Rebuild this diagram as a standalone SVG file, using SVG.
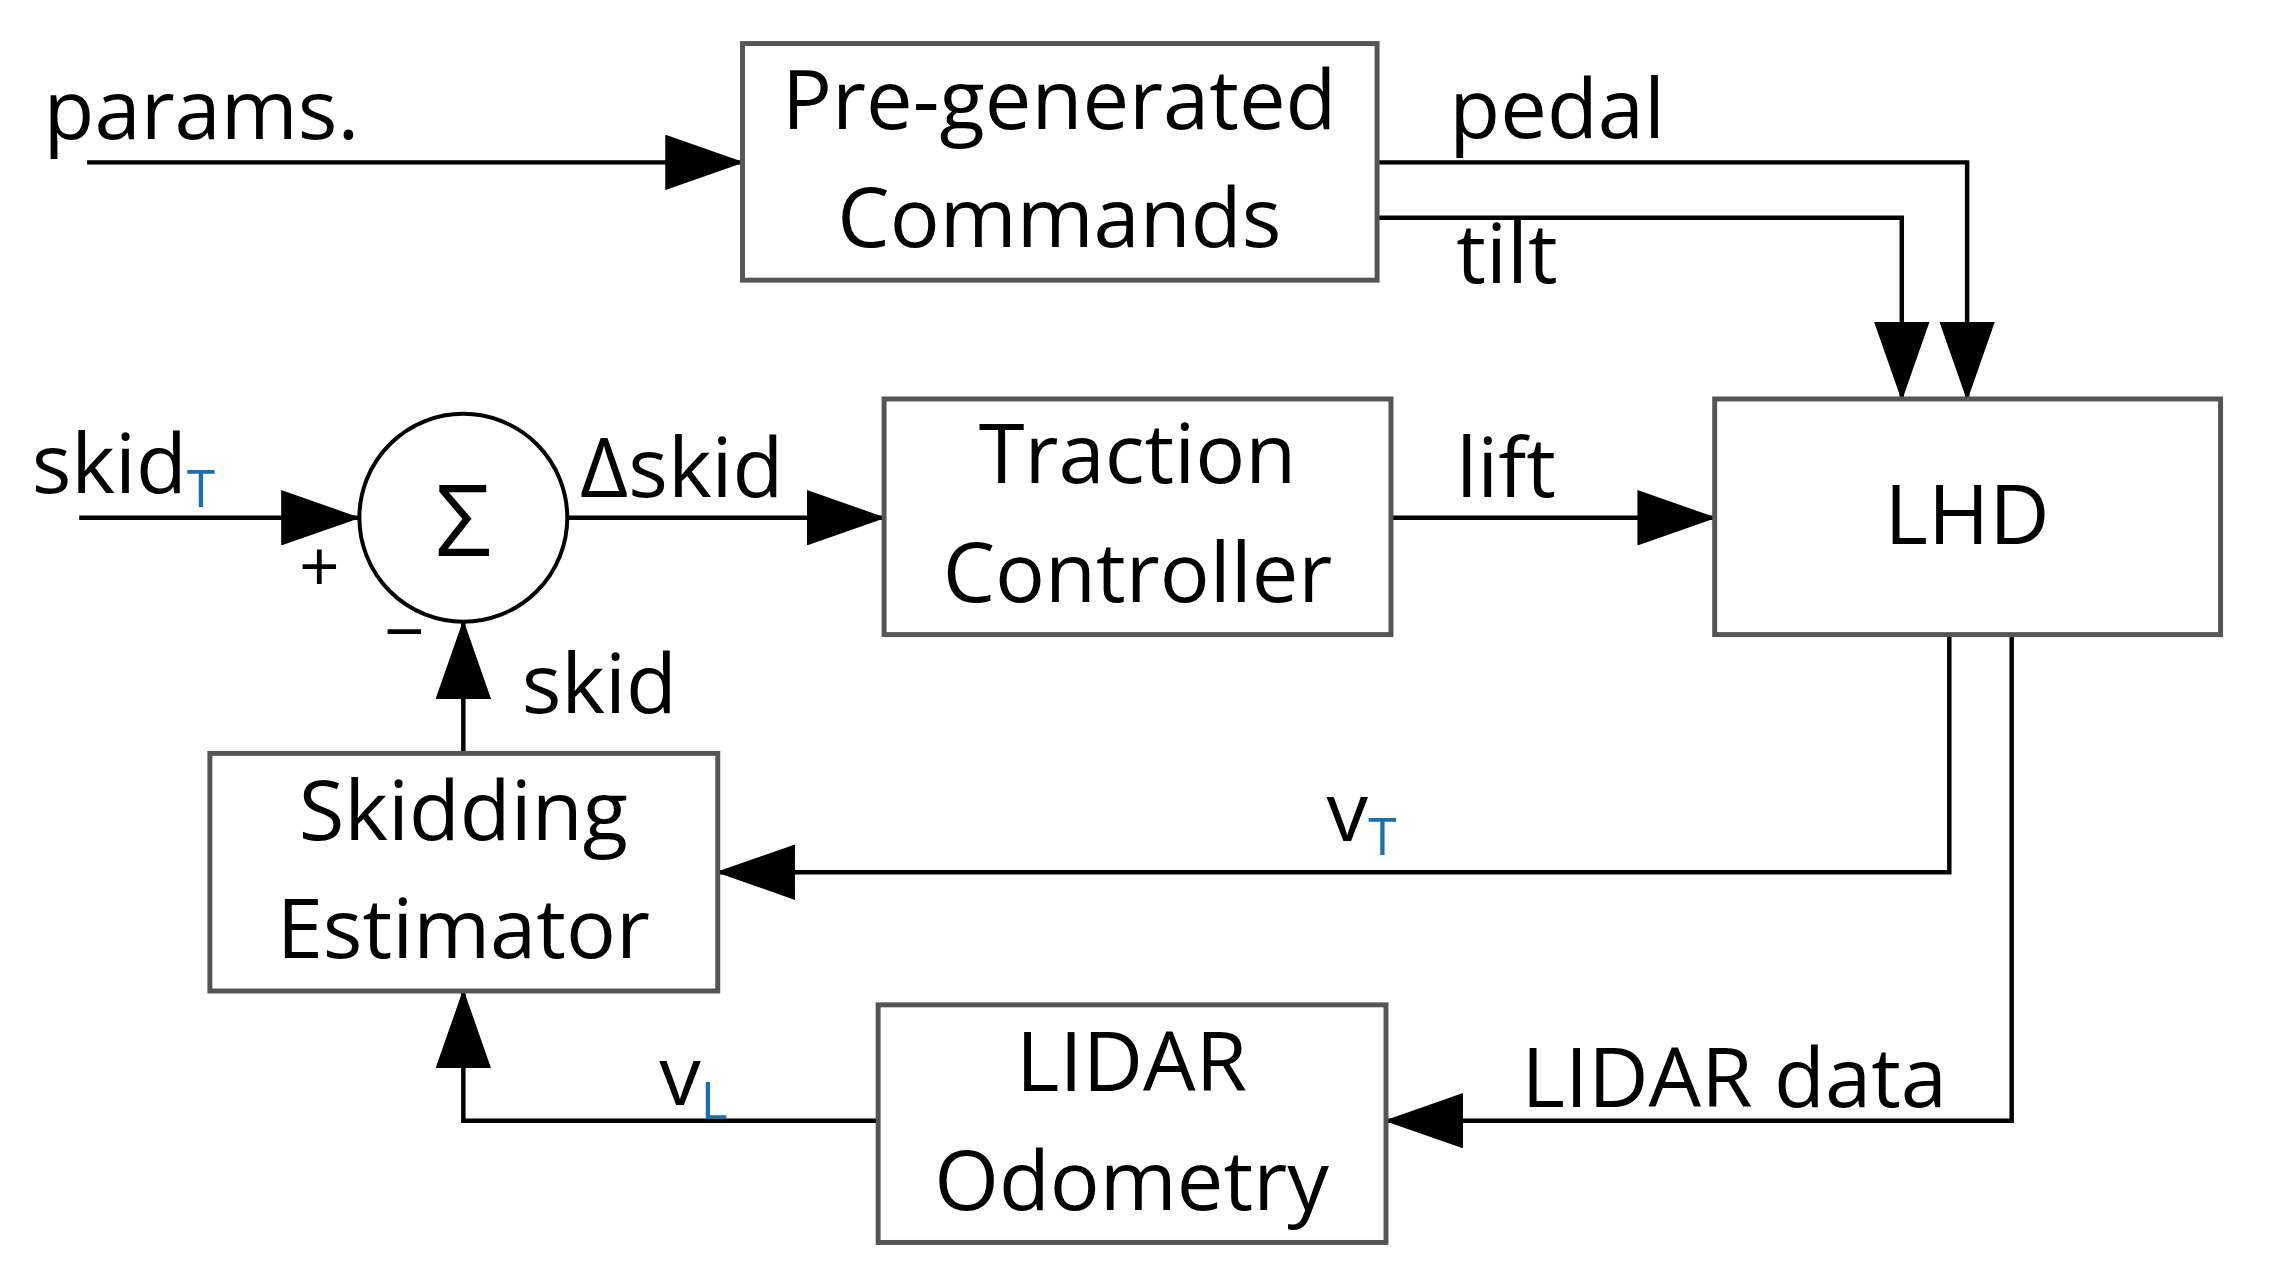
<svg xmlns="http://www.w3.org/2000/svg" width="2272" height="1284" viewBox="0 0 2272 1284">
<style>
.box{fill:#fff;stroke:#555;stroke-width:5}
.ln{fill:none;stroke:#000;stroke-width:4.5;marker-end:url(#ah)}
text{font-family:"Open Sans","Liberation Sans",sans-serif;font-size:84px;fill:#000}
.c{text-anchor:middle}
.sub{font-size:52px;fill:#1a6fb3}
</style>
<defs>
<marker id="ah" markerUnits="userSpaceOnUse" markerWidth="80" markerHeight="56" refX="78" refY="28" orient="auto"><path d="M0,0 L80,28 L0,56 Z" fill="#000"/></marker>
</defs>
<rect width="2272" height="1284" fill="#fff"/>
<g transform="scale(0.99)">
<g id="connectors">
<path class="ln" d="M88,164 H750"/>
<path class="ln" d="M1391,164 H1987 V403"/>
<path class="ln" d="M1391,220 H1921 V403"/>
<path class="ln" d="M80,523 H362"/>
<path class="ln" d="M573,523 H893"/>
<path class="ln" d="M1405,523 H1732"/>
<path class="ln" d="M468,761 V628"/>
<path class="ln" d="M1969,641 V881 H725"/>
<path class="ln" d="M2032,641 V1132 H1400"/>
<path class="ln" d="M887,1132 H468 V1001"/>
</g>
<g id="pregen"><rect class="box" x="750" y="44" width="641" height="239"/><text class="c" x="1070" y="130">Pre-generated</text><text class="c" x="1070" y="250">Commands</text></g>
<g id="traction"><rect class="box" x="893" y="403" width="512" height="238"/><text class="c" x="1149" y="488">Traction</text><text class="c" x="1149" y="608">Controller</text></g>
<g id="lhd"><rect class="box" x="1732" y="403" width="511" height="238"/><text class="c" x="1987" y="550">LHD</text></g>
<g id="skidding"><rect class="box" x="212" y="761" width="513" height="240"/><text class="c" x="468" y="848">Skidding</text><text class="c" x="468" y="968">Estimator</text></g>
<g id="lidarodo"><rect class="box" x="887" y="1015" width="513" height="240"/><text class="c" x="1143" y="1102">LIDAR</text><text class="c" x="1143" y="1222">Odometry</text></g>
<g id="sum"><circle cx="468" cy="523" r="105" fill="#fff" stroke="#000" stroke-width="4"/><text class="c" x="468" y="562" style="font-size:100px">Σ</text></g>
<g id="labels">
<text x="44" y="140">params.</text>
<text x="1464" y="139">pedal</text>
<text x="1471" y="286">tilt</text>
<text x="32" y="498">skid<tspan class="sub" dy="14">T</tspan></text>
<text x="302" y="598" style="font-size:72px">+</text>
<text x="388" y="664" style="font-size:72px">−</text>
<text x="586" y="502">Δskid</text>
<text x="1471" y="502">lift</text>
<text x="527" y="720">skid</text>
<text x="1340" y="850">v<tspan class="sub" dy="14">T</tspan></text>
<text x="1537" y="1118">LIDAR data</text>
<text x="666" y="1116">v<tspan class="sub" dy="14">L</tspan></text>
</g>
</g>
</svg>
